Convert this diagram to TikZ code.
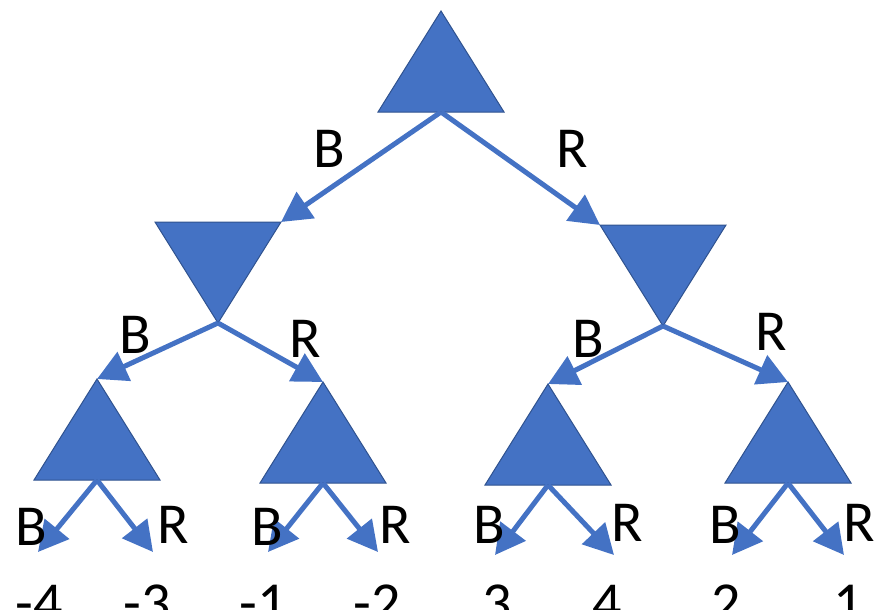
\documentclass[tikz,border=0pt]{standalone}
\usepackage{fontspec}
\setmainfont{Carlito}
\usepackage{xcolor}
\usepackage{tikz}
\usetikzlibrary{positioning,shapes.geometric,arrows.meta}

\definecolor{treeblue}{HTML}{4472C4}
\definecolor{treeedge}{HTML}{2F528F}

\begin{document}
\begin{tikzpicture}[x=1pt, y=-1pt,
    tri/.style={isosceles triangle, isosceles triangle stretches, draw=treeedge, fill=treeblue,
        line width=1pt, minimum width=126pt, minimum height=101pt, inner sep=0pt, outer sep=0pt},
    maxnode/.style={tri, shape border rotate=90, anchor=apex},
    minnode/.style={tri, shape border rotate=270, anchor=apex},
    arr/.style={-{Triangle[length=30pt,width=31pt]}, line width=5pt, draw=treeblue},
    lbl/.style={anchor=base, inner sep=0pt, font=\fontsize{58}{60}\selectfont}]
    \useasboundingbox (0,0) rectangle (875,610);

    % root and the two replies
    \node[maxnode] (root) at (441,11) {};
    \node[minnode] (minL) at (218,323) {};
    \node[minnode] (minR) at (663,326) {};

    % third level
    \node[maxnode] (maxA) at (97,379) {};
    \node[maxnode] (maxB) at (323,382) {};
    \node[maxnode] (maxC) at (548,384) {};
    \node[maxnode] (maxD) at (788,382) {};

    % leaf ends
    \coordinate (t1) at (38,552);
    \coordinate (t2) at (153,552);
    \coordinate (t3) at (268,552);
    \coordinate (t4) at (378,552);
    \coordinate (t5) at (495,555);
    \coordinate (t6) at (614,555);
    \coordinate (t7) at (732,555);
    \coordinate (t8) at (844,555);

    \draw[arr] (root.lower side) -- (minL.left corner);
    \draw[arr] (root.lower side) -- (minR.right corner);
    \draw[arr] (minL.apex) -- (maxA.apex);
    \draw[arr] (minL.apex) -- (maxB.apex);
    \draw[arr] (minR.apex) -- (maxC.apex);
    \draw[arr] (minR.apex) -- (maxD.apex);
    \draw[arr] (maxA.lower side) -- (t1);
    \draw[arr] (maxA.lower side) -- (t2);
    \draw[arr] (maxB.lower side) -- (t3);
    \draw[arr] (maxB.lower side) -- (t4);
    \draw[arr] (maxC.lower side) -- (t5);
    \draw[arr] (maxC.lower side) -- (t6);
    \draw[arr] (maxD.lower side) -- (t7);
    \draw[arr] (maxD.lower side) -- (t8);

    % move labels
    \node[lbl] (bTop) at (329,167) {B};
    \node[lbl] (rTop) at (572,167) {R};
    \node[lbl] (bL) at (135,353) {B};
    \node[lbl] (rL) at (305,357) {R};
    \node[lbl] (bR) at (588,357) {B};
    \node[lbl] (rR) at (771,350) {R};
    \node[lbl] (b1) at (31,545) {B};
    \node[lbl] (r1) at (173,543) {R};
    \node[lbl] (b2) at (267,545) {B};
    \node[lbl] (r2) at (395,543) {R};
    \node[lbl] (b3) at (489,543) {B};
    \node[lbl] (r3) at (627,541) {R};
    \node[lbl] (b4) at (725,543) {B};
    \node[lbl] (r4) at (859,541) {R};

    % payoffs
    \node[lbl] (v1) at (39,622) {-4};
    \node[lbl] (v2) at (147,622) {-3};
    \node[lbl] (v3) at (263,622) {-1};
    \node[lbl] (v4) at (377,622) {-2};
    \node[lbl] (v5) at (497,622) {3};
    \node[lbl] (v6) at (607,622) {4};
    \node[lbl] (v7) at (726,622) {2};
    \node[lbl] (v8) at (848,622) {1};
\end{tikzpicture}
\end{document}
